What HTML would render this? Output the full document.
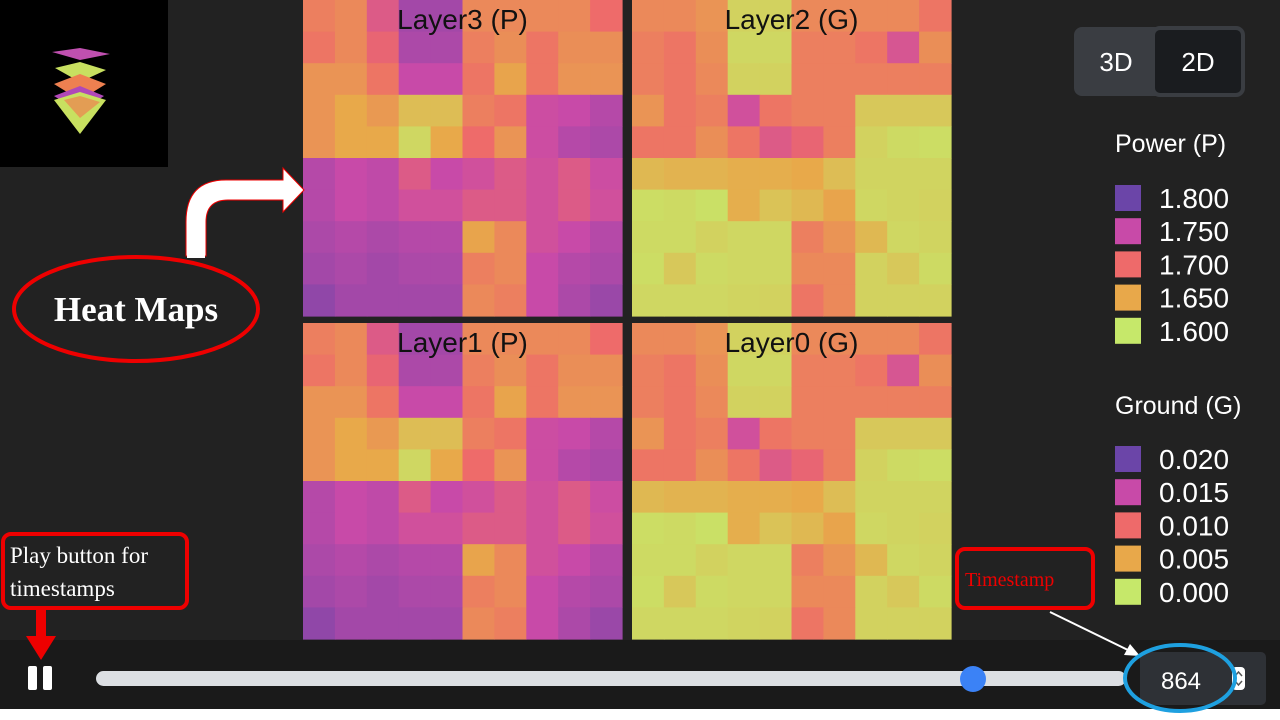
<!DOCTYPE html>
<html><head><meta charset="utf-8"><style>
html,body{margin:0;padding:0;background:#222;width:1280px;height:720px;overflow:hidden}
svg{display:block}
.sans{font-family:"Liberation Sans",sans-serif}
.serif{font-family:"Liberation Serif",serif}
</style></head><body>
<svg id="s" width="1280" height="720" xmlns="http://www.w3.org/2000/svg" class="sans">
<rect x="0" y="0" width="1280" height="720" fill="#222"/>
<g>
<rect x="0" y="0" width="168" height="167" fill="#000"/>
<polygon points="52,52 80,48 110,54 80,60" fill="#c050b0"/>
<polygon points="55,68 80,62 106,70 80,82" fill="#c8e060"/>
<polygon points="54,84 80,74 106,84 80,100" fill="#ee8050"/>
<polygon points="54,96 80,86 104,96 80,112" fill="#b048b8"/>
<polygon points="54,100 80,92 106,100 80,134" fill="#c8e060"/>
<polygon points="64,100 80,96 100,102 80,118" fill="#ee8050" opacity="0.7"/>
</g>
<g id="maps"></g>
<g>
<rect x="1074" y="27" width="92" height="69" rx="8" fill="#3a3d42"/>
<text x="1116" y="71" font-size="26" fill="#fff" text-anchor="middle">3D</text>
<rect x="1153" y="28" width="90" height="67" rx="7" fill="#1a1c1f" stroke="#3a3d42" stroke-width="4"/>
<text x="1198" y="71" font-size="26" fill="#fff" text-anchor="middle">2D</text>
</g>
<g id="legend"></g>
<rect x="0" y="640" width="1280" height="70" fill="#1a1a1a"/>
<rect x="0" y="709" width="1280" height="11" fill="#fff"/>
<g>
<rect x="28" y="666" width="9" height="24" rx="2" fill="#fff"/>
<rect x="43" y="666" width="9" height="24" rx="2" fill="#fff"/>
</g>
<rect x="96" y="671" width="1030" height="15" rx="7.5" fill="#dcdfe3"/>
<circle cx="973" cy="679" r="13" fill="#3b82f6"/>
<rect x="1140" y="652" width="126" height="53" rx="5" fill="#2e3136"/>
<text x="1181" y="689" font-size="24" fill="#fff" text-anchor="middle">864</text>
<rect x="1232" y="667" width="13" height="23" rx="4" fill="#fff"/>
<path d="M1235,676 l3.5,-4 3.5,4 M1235,681 l3.5,4 3.5,-4" stroke="#555" stroke-width="1.5" fill="none"/>
<g>
<rect x="3" y="534" width="184" height="74" rx="8" fill="none" stroke="#e00" stroke-width="4"/>
<text x="10" y="563" class="serif" font-size="23" fill="#fff">Play button for</text>
<text x="10" y="596" class="serif" font-size="23" fill="#fff">timestamps</text>
<rect x="36" y="610" width="10" height="28" fill="#e00"/>
<polygon points="26,636 56,636 41,660" fill="#e00"/>
<rect x="957" y="549" width="136" height="59" rx="8" fill="none" stroke="#e00" stroke-width="4"/>
<text x="965" y="586" class="serif" font-size="20" fill="#e00">Timestamp</text>
<line x1="1050" y1="612" x2="1132" y2="652" stroke="#fff" stroke-width="2"/>
<polygon points="1140,656 1124,655 1130,644" fill="#fff"/>
<ellipse cx="1180" cy="678" rx="55" ry="33" fill="none" stroke="#1ea0e0" stroke-width="4"/>
<ellipse cx="136" cy="309" rx="122" ry="52" fill="none" stroke="#e00" stroke-width="4"/>
<text x="136" y="321" class="serif" font-weight="bold" font-size="35" fill="#fff" text-anchor="middle">Heat Maps</text>
<path d="M206,256 L206,222 Q206,200 228,200 L283,200 L283,212 L304,190 L283,168 L283,180 L226,180 Q186,180 186,222 L186,256 Z" fill="#fff" stroke="#e00" stroke-width="1"/>
<rect x="187" y="232" width="18" height="26" fill="#fff"/>
</g>
</svg>
<script>
// values on index scale 0 (lime) .. 4 (purple)
const layer3 = [
[2.3,2.2,2.8,3.6,3.6,2.2,2.2,2.2,2.2,2.5],
[2.4,2.2,2.6,3.5,3.5,2.3,2.1,2.4,2.1,2.1],
[2.0,2.0,2.4,3.2,3.2,2.4,1.7,2.4,2.0,2.0],
[2.0,1.6,1.9,1.2,1.2,2.3,2.4,3.1,3.2,3.4],
[2.0,1.6,1.6,0.6,1.6,2.5,2.0,3.1,3.4,3.5],
[3.4,3.2,3.3,2.8,3.2,3.0,2.8,3.0,2.8,3.1],
[3.4,3.2,3.3,3.0,3.0,2.8,2.8,3.0,2.8,3.0],
[3.5,3.4,3.5,3.4,3.4,1.7,2.2,3.0,3.2,3.4],
[3.6,3.5,3.6,3.5,3.5,2.3,2.2,3.2,3.4,3.5],
[3.8,3.6,3.6,3.6,3.6,2.2,2.3,3.2,3.5,3.7]];
const layer2 = [
[2.2,2.2,2.0,0.8,0.8,2.2,2.2,2.2,2.2,2.4],
[2.3,2.4,2.1,0.6,0.6,2.3,2.3,2.4,2.9,2.1],
[2.3,2.4,2.2,0.8,0.8,2.3,2.3,2.3,2.3,2.3],
[2.0,2.4,2.3,3.0,2.4,2.3,2.3,1.0,1.0,1.0],
[2.4,2.4,2.1,2.4,2.8,2.6,2.3,0.8,0.5,0.4],
[1.3,1.4,1.4,1.5,1.5,1.6,1.2,0.7,0.7,0.7],
[0.4,0.5,0.3,1.5,1.1,1.3,1.7,0.6,0.7,0.8],
[0.5,0.5,0.8,0.6,0.6,2.3,2.0,1.3,0.6,0.7],
[0.4,1.0,0.5,0.6,0.6,2.2,2.2,0.8,1.0,0.5],
[0.6,0.6,0.6,0.7,0.8,2.4,2.2,0.8,0.8,0.8]];
const layer1 = layer3.map(r => r.slice());
const layer0 = layer2.map(r => r.slice());
const layerNames = ["Layer3 (P)","Layer2 (G)","Layer1 (P)","Layer0 (G)"];
const powerTicks = ["1.800","1.750","1.700","1.650","1.600"];
const groundTicks = ["0.020","0.015","0.010","0.005","0.000"];
const stops = [[198,232,106],[232,168,74],[238,106,106],[200,74,168],[107,69,168]];
const NS = "http://www.w3.org/2000/svg";
function color(v){
  v = Math.max(0, Math.min(4, v));
  const i = Math.min(3, Math.floor(v)), t = v - i;
  const a = stops[i], b = stops[i+1];
  return "rgb(" + a.map((c,k)=>Math.round(c+(b[k]-c)*t)).join(",") + ")";
}
// perceptual remap of cell values onto the palette
const mapIn = [0,0.8,1.5,2.2,3,4];
const mapOut = [0,0.35,0.9,1.5,2.8,3.8];
function remap(v){
  for (let i = 0; i < mapIn.length-1; i++) {
    if (v <= mapIn[i+1]) return mapOut[i] + (v-mapIn[i])/(mapIn[i+1]-mapIn[i])*(mapOut[i+1]-mapOut[i]);
  }
  return mapOut[mapOut.length-1];
}
const maps = document.getElementById("maps");
const layers = [layer3, layer2, layer1, layer0];
const origins = [[303,0],[632,0],[303,323],[632,323]];
const W = 319, H = 316;
layers.forEach((data, li) => {
  const g = document.createElementNS(NS, "g");
  
  
  const [ox, oy] = origins[li];
  const rows = data.length, cols = data[0].length;
  const cw = W / cols, ch = H / rows;
  const xs = c => ox + c * cw, ys = r => oy + r * ch;
  data.forEach((row, r) => row.forEach((v, c) => {
    const rect = document.createElementNS(NS, "rect");
    rect.setAttribute("x", xs(c)); rect.setAttribute("y", ys(r));
    rect.setAttribute("width", cw + 0.6); rect.setAttribute("height", ch + 0.6);
    rect.setAttribute("fill", color(remap(v)));
    
    
    g.appendChild(rect);
  }));
  const t = document.createElementNS(NS, "text");
  t.setAttribute("x", ox + W/2); t.setAttribute("y", oy + 29);
  t.setAttribute("font-size", "28"); t.setAttribute("text-anchor", "middle"); t.setAttribute("fill", "#111");
  t.textContent = layerNames[li];
  
  
  g.appendChild(t);
  maps.appendChild(g);
});
const legend = document.getElementById("legend");
function addLegend(title, ticks, ty, y0){
  const t = document.createElementNS(NS, "text");
  t.setAttribute("x", 1115); t.setAttribute("y", ty);
  t.setAttribute("font-size", "25"); t.setAttribute("fill", "#fff");
  t.textContent = title;
  
  
  legend.appendChild(t);
  ticks.forEach((lab, i) => {
    const y = y0 + i * 33.2;
    const r = document.createElementNS(NS, "rect");
    r.setAttribute("x", 1115); r.setAttribute("y", y - 13);
    r.setAttribute("width", 26); r.setAttribute("height", 26);
    r.setAttribute("fill", color(4 - i));
    
    
    legend.appendChild(r);
    const tx = document.createElementNS(NS, "text");
    tx.setAttribute("x", 1159); tx.setAttribute("y", y + 10);
    tx.setAttribute("font-size", "28"); tx.setAttribute("fill", "#fff");
    tx.textContent = lab;
    
    
    legend.appendChild(tx);
  });
}
addLegend("Power (P)", powerTicks, 152, 198);
addLegend("Ground (G)", groundTicks, 414, 459);
</script>
</body></html>
